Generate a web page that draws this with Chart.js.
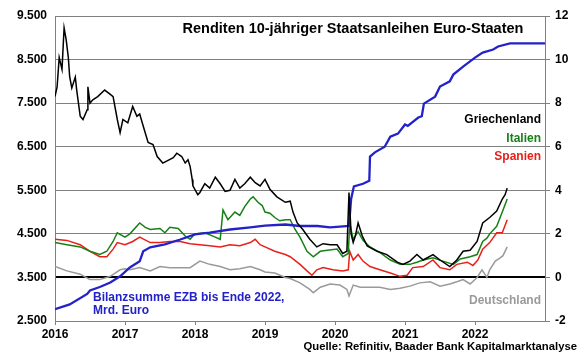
<!DOCTYPE html>
<html>
<head>
<meta charset="utf-8">
<script src="https://cdn.jsdelivr.net/npm/chart.js@4"></script>
<style>
  html, body { margin: 0; padding: 0; background: #fff; }
  canvas { display: block; }
</style>
</head>
<body>
<canvas id="chart" width="580" height="359"></canvas>
<script>
// year (decimal), yield in %
const griechenland = [[2016.00,8.3],[2016.03,8.75],[2016.06,10.1],[2016.10,9.55],[2016.13,11.45],[2016.16,10.9],[2016.19,10.1],[2016.21,9.2],[2016.24,8.7],[2016.29,9.2],[2016.31,8.6],[2016.36,7.4],[2016.40,7.25],[2016.46,7.7],[2016.47,8.75],[2016.50,8.0],[2016.54,8.15],[2016.61,8.3],[2016.71,8.6],[2016.79,8.4],[2016.83,8.3],[2016.89,7.25],[2016.93,6.65],[2016.97,7.25],[2017.04,7.1],[2017.11,7.85],[2017.17,7.4],[2017.21,7.5],[2017.26,6.95],[2017.33,6.2],[2017.40,6.1],[2017.46,5.55],[2017.54,5.25],[2017.69,5.5],[2017.74,5.7],[2017.81,5.55],[2017.86,5.25],[2017.90,5.4],[2017.93,5.1],[2017.96,4.5],[2017.97,4.2],[2018.04,3.8],[2018.07,3.9],[2018.14,4.3],[2018.21,4.1],[2018.29,4.6],[2018.36,4.3],[2018.43,3.95],[2018.50,4.0],[2018.57,4.5],[2018.64,4.1],[2018.71,4.3],[2018.79,4.6],[2018.86,4.35],[2018.93,4.2],[2019.00,4.5],[2019.07,4.05],[2019.17,3.7],[2019.29,3.45],[2019.36,3.5],[2019.40,3.0],[2019.46,2.5],[2019.54,2.2],[2019.64,1.75],[2019.74,1.4],[2019.83,1.55],[2019.93,1.5],[2020.03,1.5],[2020.11,1.1],[2020.17,1.2],[2020.20,3.9],[2020.23,2.0],[2020.26,1.6],[2020.29,1.9],[2020.33,2.5],[2020.39,1.9],[2020.46,1.45],[2020.60,1.2],[2020.74,1.05],[2020.89,0.7],[2020.97,0.6],[2021.07,0.75],[2021.17,1.05],[2021.26,0.8],[2021.40,1.05],[2021.50,0.8],[2021.64,0.5],[2021.74,0.8],[2021.83,1.2],[2021.93,1.25],[2022.03,1.65],[2022.11,2.5],[2022.21,2.75],[2022.31,3.05],[2022.39,3.6],[2022.43,3.8],[2022.46,4.1]];

const italien = [[2016.00,1.6],[2016.17,1.5],[2016.36,1.4],[2016.50,1.2],[2016.64,1.05],[2016.74,1.2],[2016.83,1.65],[2016.89,2.05],[2017.00,1.85],[2017.07,2.0],[2017.21,2.5],[2017.29,2.3],[2017.36,2.2],[2017.50,2.25],[2017.57,2.05],[2017.64,2.3],[2017.76,2.25],[2017.86,1.9],[2017.93,1.75],[2018.00,2.0],[2018.14,2.05],[2018.29,1.85],[2018.36,1.75],[2018.40,3.1],[2018.47,2.65],[2018.57,3.0],[2018.64,2.85],[2018.71,3.25],[2018.79,3.6],[2018.83,3.7],[2018.90,3.45],[2018.96,3.3],[2019.00,3.0],[2019.07,2.95],[2019.14,2.75],[2019.21,2.6],[2019.29,2.65],[2019.36,2.65],[2019.43,2.2],[2019.50,1.85],[2019.60,1.2],[2019.69,0.95],[2019.79,1.2],[2019.89,1.25],[2020.03,1.3],[2020.11,0.95],[2020.19,1.1],[2020.21,2.5],[2020.26,1.75],[2020.33,2.1],[2020.40,1.7],[2020.50,1.4],[2020.64,1.15],[2020.79,0.8],[2020.93,0.6],[2021.07,0.6],[2021.17,0.7],[2021.26,0.8],[2021.40,0.9],[2021.54,0.75],[2021.69,0.6],[2021.79,0.85],[2021.93,0.95],[2022.03,1.05],[2022.11,1.65],[2022.17,1.8],[2022.21,2.0],[2022.31,2.35],[2022.39,3.0],[2022.46,3.6]];

const spanien = [[2016.00,1.75],[2016.17,1.7],[2016.36,1.5],[2016.50,1.2],[2016.64,0.95],[2016.74,0.95],[2016.83,1.3],[2016.89,1.6],[2017.00,1.5],[2017.11,1.65],[2017.21,1.85],[2017.36,1.6],[2017.50,1.6],[2017.64,1.65],[2017.79,1.65],[2017.93,1.55],[2018.07,1.5],[2018.21,1.45],[2018.36,1.4],[2018.50,1.5],[2018.64,1.45],[2018.79,1.6],[2018.86,1.75],[2018.93,1.5],[2019.00,1.4],[2019.14,1.2],[2019.29,1.05],[2019.36,0.95],[2019.50,0.6],[2019.60,0.3],[2019.67,0.1],[2019.74,0.35],[2019.83,0.45],[2019.97,0.35],[2020.11,0.3],[2020.19,0.35],[2020.21,1.2],[2020.26,0.8],[2020.33,1.05],[2020.40,0.75],[2020.50,0.5],[2020.64,0.35],[2020.79,0.2],[2020.93,0.05],[2021.03,0.1],[2021.11,0.45],[2021.26,0.5],[2021.40,0.8],[2021.50,0.45],[2021.64,0.35],[2021.74,0.6],[2021.89,0.7],[2021.97,0.55],[2022.04,0.8],[2022.11,1.3],[2022.21,1.6],[2022.31,2.05],[2022.39,2.05],[2022.46,2.65]];

const deutschland = [[2016.00,0.5],[2016.17,0.3],[2016.36,0.15],[2016.50,-0.1],[2016.64,-0.1],[2016.79,0.05],[2016.93,0.35],[2017.00,0.4],[2017.07,0.35],[2017.21,0.45],[2017.36,0.3],[2017.50,0.5],[2017.64,0.45],[2017.79,0.45],[2017.93,0.45],[2018.07,0.75],[2018.21,0.6],[2018.36,0.5],[2018.50,0.35],[2018.64,0.4],[2018.79,0.5],[2018.93,0.35],[2019.00,0.25],[2019.14,0.2],[2019.29,0.0],[2019.36,-0.05],[2019.50,-0.25],[2019.64,-0.55],[2019.69,-0.7],[2019.79,-0.45],[2019.93,-0.3],[2020.07,-0.35],[2020.17,-0.55],[2020.20,-0.85],[2020.26,-0.35],[2020.36,-0.45],[2020.50,-0.45],[2020.64,-0.45],[2020.79,-0.55],[2020.93,-0.5],[2021.07,-0.4],[2021.21,-0.25],[2021.36,-0.2],[2021.50,-0.4],[2021.64,-0.3],[2021.74,-0.2],[2021.83,-0.1],[2021.93,-0.3],[2022.03,0.0],[2022.10,0.35],[2022.17,0.0],[2022.21,0.35],[2022.29,0.75],[2022.36,0.9],[2022.40,1.0],[2022.46,1.4]];

// ECB balance sheet, bn EUR (left axis)
const ezbBilanz = [[2016.00,2770],[2016.21,2880],[2016.46,3120],[2016.50,3200],[2016.64,3280],[2016.79,3385],[2016.93,3525],[2017.07,3730],[2017.21,3870],[2017.26,4100],[2017.36,4190],[2017.57,4260],[2017.79,4370],[2018.00,4490],[2018.21,4530],[2018.50,4600],[2018.79,4650],[2019.00,4690],[2019.29,4715],[2019.50,4680],[2019.75,4680],[2019.93,4650],[2020.07,4665],[2020.20,4680],[2020.23,5300],[2020.27,5590],[2020.40,5650],[2020.49,5720],[2020.50,6275],[2020.57,6370],[2020.71,6500],[2020.79,6730],[2020.90,6800],[2021.00,7010],[2021.04,6980],[2021.19,7170],[2021.24,7200],[2021.27,7490],[2021.43,7650],[2021.50,7880],[2021.64,8000],[2021.69,8155],[2021.83,8340],[2022.00,8545],[2022.11,8660],[2022.26,8730],[2022.33,8800],[2022.50,8870],[2023.00,8870]];

const yearTicks = [2016, 2017, 2018, 2019, 2020, 2021, 2022];

const FONT = '"Liberation Sans", Arial, sans-serif';

function toPoints(arr) {
  return arr.map(p => ({ x: p[0], y: p[1] }));
}

function yieldLine(label, data, color) {
  return {
    label,
    data: toPoints(data),
    yAxisID: 'yR',
    borderColor: color,
    borderWidth: 1.5,
    pointRadius: 0,
    tension: 0
  };
}

// annotation texts drawn on top of the plot
const textPlugin = {
  id: 'texts',
  afterDraw(chart) {
    const ctx = chart.ctx;
    ctx.save();
    ctx.textBaseline = 'middle';

    ctx.font = 'bold 14.5px ' + FONT;
    ctx.fillStyle = '#000';
    ctx.textAlign = 'center';
    ctx.fillText('Renditen 10-jähriger Staatsanleihen Euro-Staaten', 353, 29);

    ctx.font = 'bold 12px ' + FONT;
    ctx.textAlign = 'right';
    ctx.fillStyle = '#000';
    ctx.fillText('Griechenland', 541, 120);
    ctx.fillStyle = '#178017';
    ctx.fillText('Italien', 541, 139);
    ctx.fillStyle = '#e8201a';
    ctx.fillText('Spanien', 541, 157);
    ctx.fillStyle = '#9a9a9a';
    ctx.fillText('Deutschland', 541, 301);

    ctx.textAlign = 'left';
    ctx.fillStyle = '#2222c8';
    ctx.fillText('Bilanzsumme EZB bis Ende 2022,', 93, 298);
    ctx.fillText('Mrd. Euro', 93, 311);

    ctx.fillStyle = '#000';
    ctx.textAlign = 'right';
    ctx.font = 'bold 11.3px ' + FONT;
    ctx.fillText('Quelle: Refinitiv, Baader Bank Kapitalmarktanalyse', 577, 347);
    ctx.restore();
  }
};

const tickFont = { family: FONT, size: 12, weight: 'bold' };

new Chart(document.getElementById('chart'), {
  type: 'line',
  data: {
    datasets: [
      yieldLine('Griechenland', griechenland, '#000000'),
      {
        label: 'Bilanzsumme EZB',
        data: toPoints(ezbBilanz),
        yAxisID: 'yL',
        borderColor: '#2222c8',
        borderWidth: 2.3,
        pointRadius: 0,
        tension: 0
      },
      yieldLine('Italien', italien, '#178017'),
      yieldLine('Spanien', spanien, '#e8201a'),
      yieldLine('Deutschland', deutschland, '#9a9a9a')
    ]
  },
  options: {
    responsive: false,
    animation: false,
    devicePixelRatio: 1,
    layout: { padding: { top: 16, left: 0, right: 0, bottom: 0 } },
    plugins: {
      legend: { display: false },
      tooltip: { enabled: false }
    },
    scales: {
      x: {
        type: 'linear',
        min: 2016,
        max: 2023,
        afterBuildTicks: scale => {
          scale.ticks = yearTicks.map(v => ({ value: v }));
        },
        afterFit: scale => { scale.height = 38; },
        grid: { drawOnChartArea: false, drawTicks: true, tickLength: 4, color: '#808080' },
        border: { color: '#808080' },
        ticks: {
          font: tickFont,
          color: '#000',
          padding: 2,
          maxRotation: 0,
          callback: v => String(v)
        }
      },
      yL: {
        type: 'linear',
        position: 'left',
        min: 2500,
        max: 9500,
        afterFit: scale => { scale.width = 55; },
        ticks: {
          stepSize: 1000,
          font: tickFont,
          color: '#000',
          padding: 8,
          callback: v => v.toLocaleString('de-DE')
        },
        grid: {
          drawTicks: false,
          color: c => c.tick && c.tick.value === 3500 ? '#000' : '#808080',
          lineWidth: c => c.tick && c.tick.value === 3500 ? 2 : 1
        },
        border: { color: '#808080' }
      },
      yR: {
        type: 'linear',
        position: 'right',
        min: -2,
        max: 12,
        afterFit: scale => { scale.width = 35; },
        ticks: {
          stepSize: 2,
          font: tickFont,
          color: '#000',
          padding: 5
        },
        grid: { drawOnChartArea: false, tickLength: 5, color: '#808080' },
        border: { color: '#808080' }
      }
    }
  },
  plugins: [textPlugin]
});
</script>
</body>
</html>
